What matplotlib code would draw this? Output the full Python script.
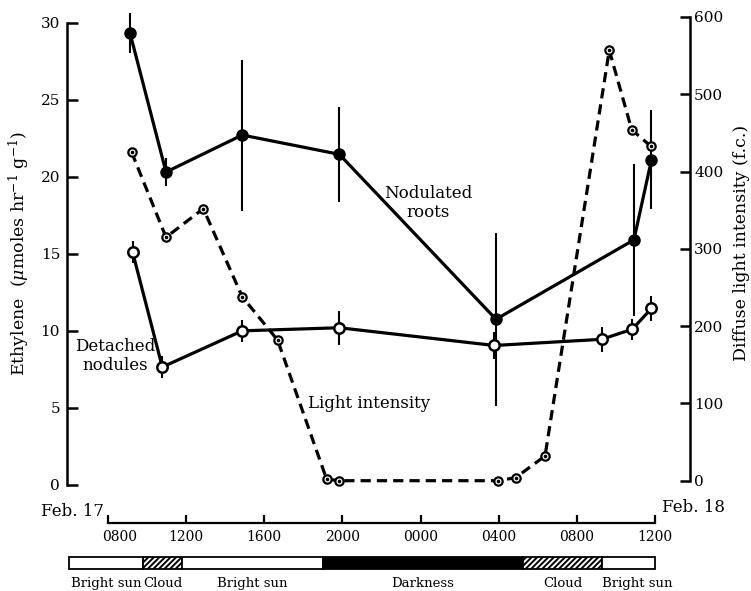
import matplotlib
matplotlib.use("Agg")
import matplotlib.pyplot as plt
from matplotlib.transforms import ScaledTranslation

# ---------------- data ----------------
# time in clock hours from midnight Feb 17 (24 = 0000 Feb 18)
nod_time = [9.13, 10.97, 14.87, 19.84, 27.86, 34.92, 35.82]
nod_val = [29.3, 20.3, 22.7, 21.45, 10.75, 15.9, 21.1]
nod_err = [1.3, 0.9, 4.9, 3.1, 5.6, 4.95, 3.2]

det_time = [9.26, 10.78, 14.87, 19.84, 27.77, 33.27, 34.83, 35.82]
det_val = [15.1, 7.65, 10.0, 10.2, 9.05, 9.45, 10.1, 11.45]
det_err = [0.7, 0.7, 0.7, 1.1, 0.9, 0.8, 0.7, 0.8]

light_time = [9.21, 10.97, 12.88, 14.87, 16.68, 19.19, 19.82, 27.98, 28.87,
              30.37, 33.66, 34.81, 35.78]
light_val = [425, 315, 352, 238, 182, 2, 0, 0, 4, 32, 557, 454, 433]

tick_hours = [8, 12, 16, 20, 24, 28, 32, 36]
tick_labels = ["0800", "1200", "1600", "2000", "0000", "0400", "0800", "1200"]

left_ticks = [0, 5, 10, 15, 20, 25, 30]
right_ticks = [0, 100, 200, 300, 400, 500, 600]

cond_labels = ["Bright sun", "Cloud", "Bright sun", "Darkness", "Cloud", "Bright sun"]
cond_kind = ["sun", "cloud", "sun", "dark", "cloud", "sun"]
cond_edges = [6.0, 9.8, 11.8, 19.0, 29.25, 33.3, 36.0]

# ---------------- layout ----------------
W, H = 751, 591
FONT = "DejaVu Serif"
plt.rcParams["font.family"] = [FONT, "DejaVu Sans"]
plt.rcParams["mathtext.fontset"] = "dejavuserif"
plt.rcParams["hatch.linewidth"] = 1.4

fig = plt.figure(figsize=(W / 100, H / 100), dpi=100)

px_per_hr = 547 / 28.0
x_left_px, x_right_px = 67, 690
xlim = (8 + (x_left_px - 108) / px_per_hr, 8 + (x_right_px - 108) / px_per_hr)


def rect(x0, y_top, x1, y_bot):
    return [x0 / W, 1 - y_bot / H, (x1 - x0) / W, (y_bot - y_top) / H]


ax = fig.add_axes(rect(x_left_px, 22.5, x_right_px, 485))
axr = fig.add_axes(rect(x_left_px, 17, x_right_px, 480.7))
axr.patch.set_visible(False)

for a in (ax, axr):
    a.set_xlim(*xlim)
    a.set_xticks([])
    for s in ("top", "bottom"):
        a.spines[s].set_visible(False)

ax.set_ylim(0, 30)
ax.spines["right"].set_visible(False)
ax.spines["left"].set_linewidth(1.8)
ax.set_yticks(left_ticks)
ax.tick_params(axis="y", direction="in", length=8, width=1.8, labelsize=11, pad=5)

axr.set_ylim(0, 600)
axr.spines["left"].set_visible(False)
axr.spines["right"].set_linewidth(1.8)
axr.yaxis.tick_right()
axr.set_yticks(right_ticks)
axr.tick_params(axis="y", direction="in", length=7, width=1.8, labelsize=11, pad=3)

# light intensity (dashed, dotted circles)
axr.plot(light_time, light_val, color="black", lw=2.3, dashes=(3.2, 1.9),
         clip_on=False, zorder=2)
axr.plot(light_time, light_val, ls="none", marker="o", ms=6, mfc="white",
         mec="black", mew=1.6, clip_on=False, zorder=3)
axr.plot(light_time, light_val, ls="none", marker="o", ms=1.6, mfc="black",
         mec="black", clip_on=False, zorder=4)

# nodulated roots
ax.errorbar(nod_time, nod_val, yerr=nod_err, fmt="none", ecolor="black",
            elinewidth=1.5, capsize=0, clip_on=False, zorder=3)
ax.plot(nod_time, nod_val, color="black", lw=2.3, marker="o", ms=8,
        mfc="black", mec="black", clip_on=False, zorder=4)

# detached nodules
ax.errorbar(det_time, det_val, yerr=det_err, fmt="none", ecolor="black",
            elinewidth=1.5, capsize=0, clip_on=False, zorder=3)
ax.plot(det_time, det_val, color="black", lw=2.3, marker="o", ms=7.5,
        mfc="white", mec="black", mew=1.8, clip_on=False, zorder=4)

# ---------------- time axis ----------------
axt = fig.add_axes(rect(x_left_px, 500, x_right_px, 523))
axt.set_xlim(*xlim)
axt.patch.set_visible(False)
for s in ("top", "left", "right"):
    axt.spines[s].set_visible(False)
axt.spines["bottom"].set_linewidth(1.6)
axt.spines["bottom"].set_bounds(tick_hours[0], tick_hours[-1])
axt.set_yticks([])
axt.set_xticks(tick_hours)
axt.set_xticklabels(tick_labels)
axt.tick_params(axis="x", direction="in", length=6, width=1.6, labelsize=10, pad=5)
first = axt.get_xticklabels()[0]
first.set_transform(first.get_transform() + ScaledTranslation(0.12, 0, fig.dpi_scale_trans))

# ---------------- condition bar ----------------
axb = fig.add_axes(rect(x_left_px, 557, x_right_px, 569))
axb.set_xlim(*xlim)
axb.set_ylim(0, 1)
axb.axis("off")
for i, kind in enumerate(cond_kind):
    x0, x1 = cond_edges[i], cond_edges[i + 1]
    if kind == "sun":
        fc, hatch = "white", None
    elif kind == "cloud":
        fc, hatch = "white", "//////"
    else:
        fc, hatch = "black", None
    axb.add_patch(plt.Rectangle((x0, 0), x1 - x0, 1, facecolor=fc,
                                edgecolor="black", lw=1.3, hatch=hatch,
                                clip_on=False))
for i, lab in enumerate(cond_labels):
    x0, x1 = cond_edges[i], cond_edges[i + 1]
    if i == len(cond_labels) - 1:
        axb.text(x0, -1.2, lab, ha="left", va="center", fontsize=9.5)
    else:
        axb.text((x0 + x1) / 2, -1.2, lab, ha="center", va="center", fontsize=9.5)

# ---------------- texts ----------------
def ftext(x, y, s, **kw):
    fig.text(x / W, 1 - y / H, s, **kw)

ftext(19, 254, r"Ethylene  ($\mu$moles hr$^{-1}$ g$^{-1}$)", rotation=90,
      ha="center", va="center", fontsize=12.5)
ftext(741, 243, "Diffuse light intensity (f.c.)", rotation=90,
      ha="center", va="center", fontsize=12.5)
ftext(428, 203, "Nodulated\nroots", ha="center", va="center", fontsize=12,
      linespacing=1.1)
ftext(115, 356, "Detached\nnodules", ha="center", va="center", fontsize=12,
      linespacing=1.1)
ftext(369, 404, "Light intensity", ha="center", va="center", fontsize=12)
ftext(104, 512, "Feb. 17", ha="right", va="center", fontsize=12)
ftext(662, 508, "Feb. 18", ha="left", va="center", fontsize=12)

fig.savefig("out.png", dpi=100)
